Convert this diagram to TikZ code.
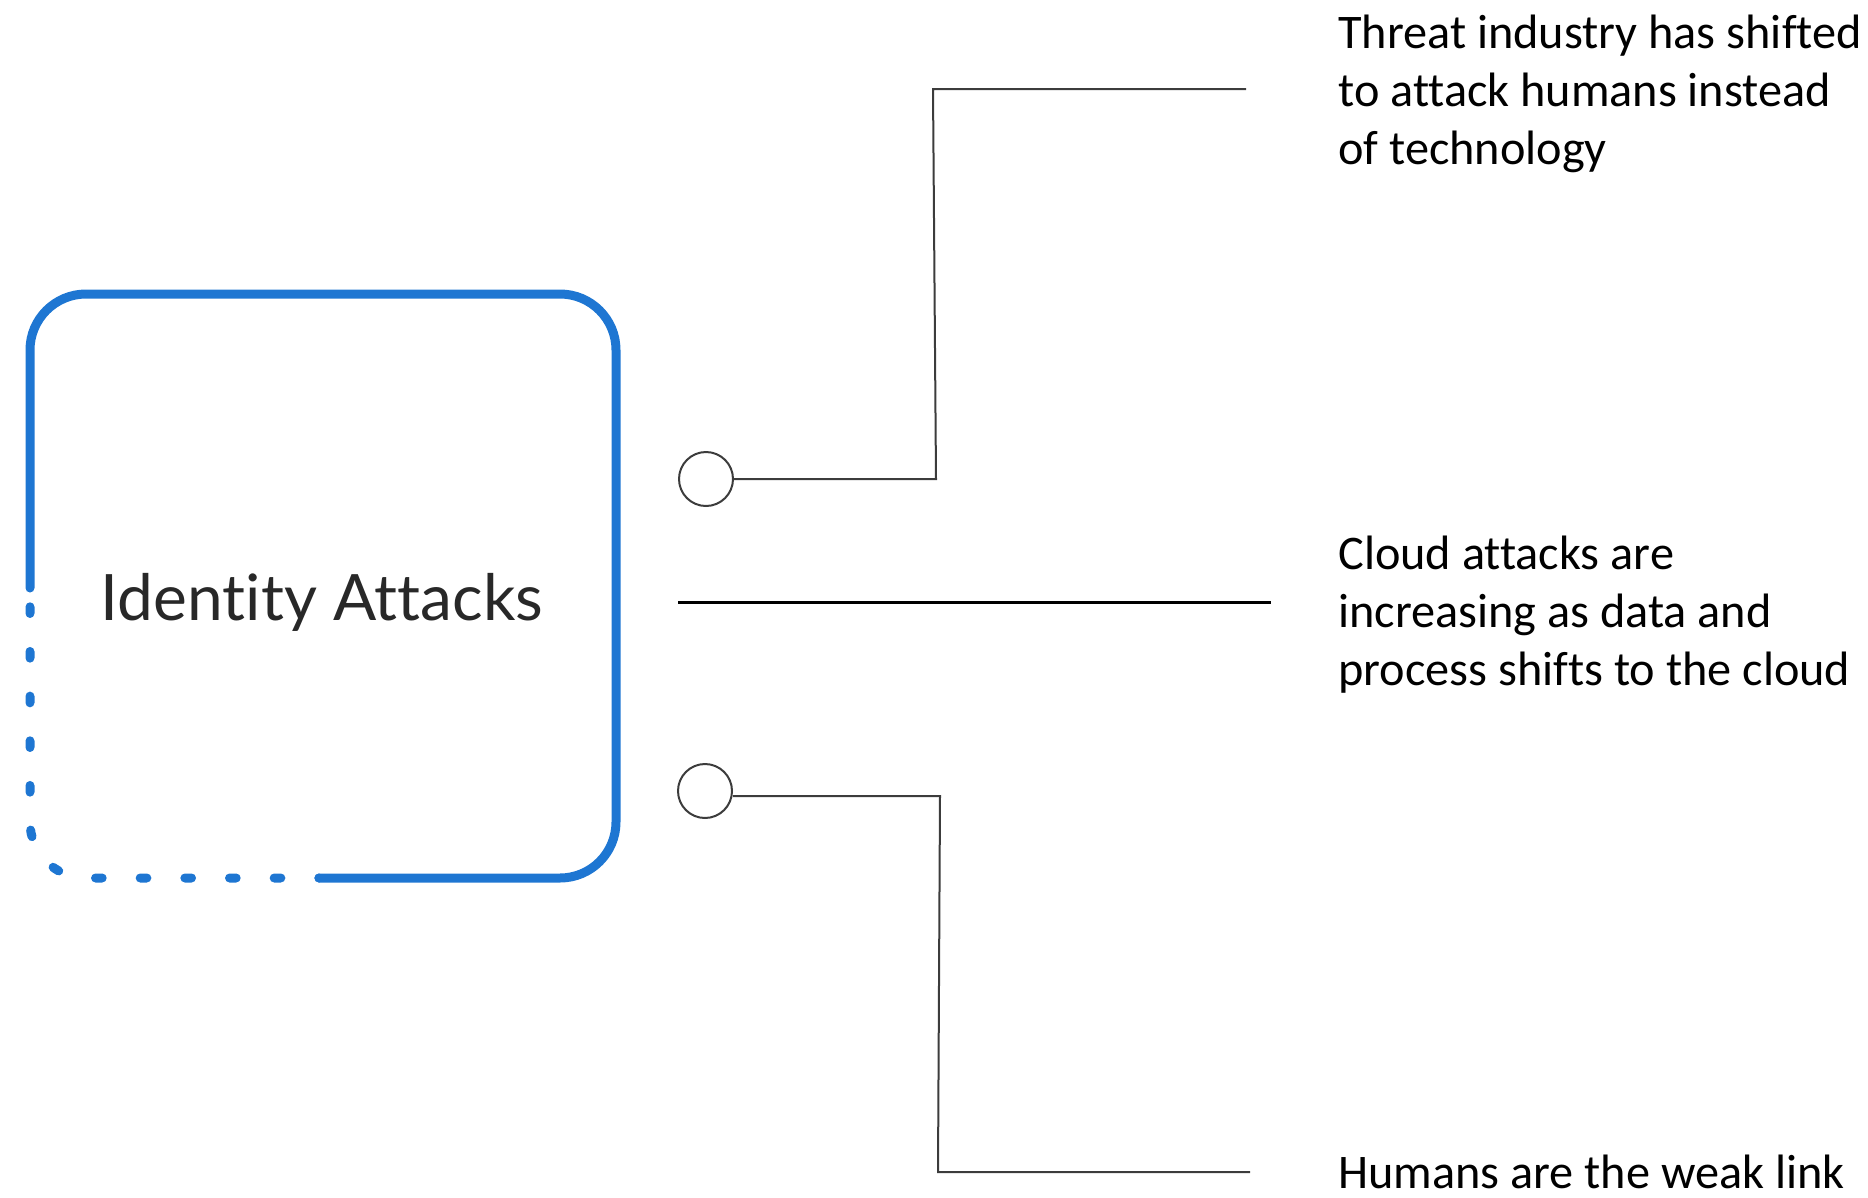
\documentclass[tikz,border=0pt]{standalone}
\usepackage{fontspec}
\setmainfont[Ligatures=NoCommon]{Carlito}
\newfontfamily\latofont[Ligatures=NoCommon]{Lato}
\definecolor{boxblue}{RGB}{30,118,210}
\definecolor{inkgray}{RGB}{40,40,40}
\definecolor{wiregray}{RGB}{60,60,60}

\begin{document}
\begin{tikzpicture}[x=0.75pt,y=0.75pt,yscale=-1,xscale=1,
  boxline/.style={draw=boxblue,line width=6.75pt,rounded corners=42pt},
  wire/.style={draw=wiregray,line width=1.5pt},
  knob/.style={circle,draw=wiregray,line width=1.5pt,minimum size=40.5pt,inner sep=0pt},
  note/.style={anchor=base west,inner sep=0pt,align=left,font=\fontsize{36.2}{43.5}\selectfont}]
\useasboundingbox (0,0) rectangle (1868,1197);

%Shape: Rounded Rect, solid part
\draw [boxline,line cap=round] (30,588) -- (30,294) -- (616,294) -- (616,878) -- (319,878) ;
%Shape: Rounded Rect, dotted part
\draw [boxline,line cap=round,dash pattern=on 5pt off 28.5pt,dash phase=19.4pt] (30,588) -- (30,878) -- (319,878) ;

% Text Node
\node (title) at (322,620) [anchor=base,inner sep=0pt,text=inkgray,font=\latofont\fontsize{48}{58}\selectfont] {Identity Attacks};

%Shape: Circle
\node (k1) at (706,479) [knob] {};
%Shape: Circle
\node (k2) at (705,791) [knob] {};

\coordinate (a1) at (936,479);
\coordinate (a2) at (933,89);
\coordinate (a3) at (1246,89);
\coordinate (m1) at (678,602);
\coordinate (m2) at (1271,602);
\coordinate (b1) at (940,796);
\coordinate (b2) at (938,1172);
\coordinate (b3) at (1250,1172);

%Straight Lines
\draw [wire] (k1.east) -- (a1) -- (a2) -- (a3) ;
%Straight Lines
\draw [line width=2.25pt] (m1) -- (m2) ;
%Straight Lines
\draw [wire] (k2.east |- b1) -- (b1) -- (b2) -- (b3) ;

% Text Node
\node (t1) at (1338,164) [note] {Threat industry has shifted\\to attack humans instead\\of technology};
% Text Node
\node (t2) at (1338,685) [note] {Cloud attacks are\\increasing as data and\\process shifts to the cloud};
% Text Node
\node (t3) at (1338,1188) [note] {Humans are the weak link};

\end{tikzpicture}
\end{document}
